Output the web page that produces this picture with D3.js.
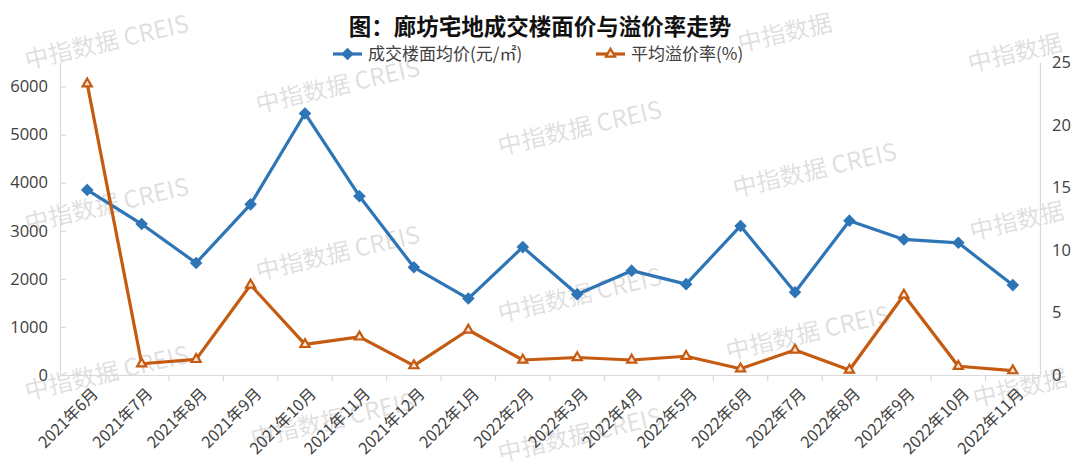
<!DOCTYPE html>
<html><head><meta charset="utf-8">
<script src="https://cdn.jsdelivr.net/npm/d3@7"></script>
<style>
html,body{margin:0;padding:0;background:#fff;}
svg{display:block;font-family:"Noto Sans CJK SC","Noto Sans",sans-serif;}
</style></head>
<body><svg id="c" width="1080" height="468"></svg>
<script>
const categories = ["2021年6月","2021年7月","2021年8月","2021年9月","2021年10月","2021年11月","2021年12月","2022年1月","2022年2月","2022年3月","2022年4月","2022年5月","2022年6月","2022年7月","2022年8月","2022年9月","2022年10月","2022年11月"];
const priceValues = [3850,3140,2330,3550,5440,3720,2240,1590,2660,1680,2170,1890,3100,1720,3210,2820,2750,1870];
const premiumValues = [23.3,0.9,1.25,7.2,2.45,3.05,0.75,3.6,1.2,1.4,1.2,1.5,0.5,2.0,0.4,6.4,0.7,0.35];
const leftTicks = [0,1000,2000,3000,4000,5000,6000];
const rightTicks = [0,5,10,15,20,25];
const seriesNames = ["成交楼面均价(元/㎡)","平均溢价率(%)"];
const titleText = "图：廊坊宅地成交楼面价与溢价率走势";
const watermarkText = "中指数据 CREIS";
const watermarkShort = "中指数据";

const svg = d3.select("#c");
const m = {l:60, r:1040, t:62.5, b:375};
const blue = "#2e75b6", orange = "#c55a11", axisCol = "#d9d9d9", txt = "#404040";

const x = d3.scaleBand().domain(categories).range([m.l, m.r]);
const yL = d3.scaleLinear().domain([0,6500]).range([m.b, m.t]);
const yR = d3.scaleLinear().domain([0,25]).range([m.b, m.t]);
const cx = d => x(d) + x.bandwidth()/2;

// watermarks (drawn first, faint)
const wmList = [
  {x:27,y:69,t:watermarkText},{x:27,y:232,t:watermarkText},{x:27,y:400,t:watermarkText},
  {x:258,y:113,t:watermarkText},{x:258,y:280,t:watermarkText},{x:253,y:447,t:watermarkText},
  {x:500,y:155,t:watermarkText},{x:500,y:322,t:watermarkText},{x:500,y:462,t:watermarkText},
  {x:740,y:52,t:watermarkShort},{x:735,y:197,t:watermarkText},{x:728,y:360,t:watermarkText},
  {x:970,y:72,t:watermarkShort},{x:972,y:240,t:watermarkShort},{x:975,y:407,t:watermarkShort}
];
svg.append("g").attr("pointer-events","none").selectAll("text").data(wmList).join("text")
  .attr("transform",d=>`translate(${d.x},${d.y}) rotate(-13)`)
  .attr("fill","#808080").attr("fill-opacity",0.26)
  .style("font-size","24px").text(d=>d.t);

// left axis
const gL = svg.append("g").attr("transform",`translate(${m.l},0)`)
  .call(d3.axisLeft(yL).tickValues(leftTicks).tickFormat(d3.format("d")).tickSizeInner(-6).tickSizeOuter(0).tickPadding(12));
gL.select(".domain").attr("stroke",axisCol).attr("stroke-width",1.2);
gL.selectAll(".tick line").attr("stroke",axisCol).attr("stroke-width",1.2);
gL.selectAll(".tick text").attr("fill",txt).style("font-size","16.5px").style("font-family","'Open Sans','Noto Sans',sans-serif");

// right axis
const gR = svg.append("g").attr("transform",`translate(${m.r},0)`)
  .call(d3.axisRight(yR).tickValues(rightTicks).tickSize(0).tickPadding(12));
gR.select(".domain").attr("stroke",axisCol).attr("stroke-width",1.2);
gR.selectAll(".tick text").attr("fill",txt).style("font-size","16.5px").style("font-family","'Open Sans','Noto Sans',sans-serif");

// bottom axis
const gB = svg.append("g").attr("transform",`translate(0,${m.b})`)
  .call(d3.axisBottom(x).tickSize(0).tickFormat(""));
gB.select(".domain").attr("stroke",axisCol).attr("stroke-width",1.2);
svg.append("g").selectAll("line").data(categories.slice(1)).join("line")
  .attr("x1",d=>x(d)).attr("x2",d=>x(d)).attr("y1",m.b).attr("y2",m.b+6)
  .attr("stroke",axisCol).attr("stroke-width",1.2);
svg.append("g").selectAll("text").data(categories).join("text")
  .attr("transform",d=>`translate(${cx(d)+8},${m.b+16}) rotate(-45)`)
  .attr("text-anchor","end").attr("dy","0.35em")
  .attr("fill",txt).style("font-size","16px").text(d=>d);

// lines
const lineL = d3.line().x((d,i)=>cx(categories[i])).y(d=>yL(d));
const lineR = d3.line().x((d,i)=>cx(categories[i])).y(d=>yR(d));
svg.append("path").datum(priceValues).attr("d",lineL).attr("fill","none")
  .attr("stroke",blue).attr("stroke-width",3.2).attr("stroke-linejoin","round");
svg.append("path").datum(premiumValues).attr("d",lineR).attr("fill","none")
  .attr("stroke",orange).attr("stroke-width",3.2).attr("stroke-linejoin","round");

const diamond = d3.symbol().type(d3.symbolDiamond2).size(70);
const tri = d3.symbol().type(d3.symbolTriangle2).size(60);
svg.append("g").selectAll("path").data(priceValues).join("path")
  .attr("d",diamond).attr("transform",(d,i)=>`translate(${cx(categories[i])},${yL(d)})`)
  .attr("fill",blue).attr("stroke",blue).attr("stroke-width",1.5);
svg.append("g").selectAll("path").data(premiumValues).join("path")
  .attr("d",tri).attr("transform",(d,i)=>`translate(${cx(categories[i])},${yR(d)})`)
  .attr("fill","#fbe5d6").attr("stroke",orange).attr("stroke-width",2.2);

// title
svg.append("text").attr("x",540).attr("y",27).attr("dy","0.35em").attr("text-anchor","middle")
  .attr("fill","#111").style("font-size","22.5px").style("font-weight","bold").text(titleText);

// legend
const leg = [{x:333,c:blue,s:diamond},{x:596,c:orange,s:tri}];
leg.forEach((l,i)=>{
  svg.append("line").attr("x1",l.x).attr("x2",l.x+29).attr("y1",54).attr("y2",54)
    .attr("stroke",l.c).attr("stroke-width",3.2);
  svg.append("path").attr("d",l.s).attr("transform",`translate(${l.x+14.5},54)`)
    .attr("fill",i==0?blue:"#fbe5d6").attr("stroke",l.c).attr("stroke-width",i==0?1.5:2.2);
  svg.append("text").attr("x",l.x+35).attr("y",54).attr("dy","0.35em")
    .attr("fill",txt).style("font-size","17px").text(seriesNames[i]);
});
</script></body></html>
